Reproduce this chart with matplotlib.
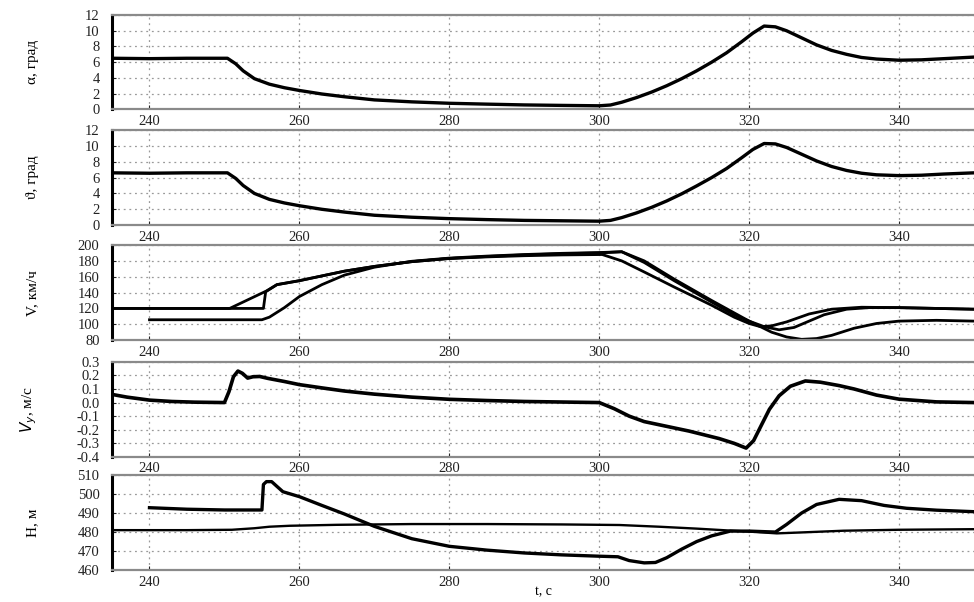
import matplotlib
matplotlib.use("Agg")
import matplotlib.pyplot as plt
from matplotlib.ticker import MultipleLocator, FormatStrFormatter

plt.rcParams['font.family'] = ['Liberation Serif', 'DejaVu Serif']

# Angle of attack and pitch angle, deg
t_ang = [235, 240, 245, 250.4, 251.5, 252.5, 254, 256, 258, 260, 263, 266, 270, 275, 280, 285, 290,
         295, 300, 301.5, 303, 305, 307, 309, 311, 313, 315, 317, 319, 320.5, 322, 323.5, 325, 327,
         329, 331, 333, 335, 337, 340, 343, 346, 350]
alpha = [6.5, 6.45, 6.5, 6.5, 5.8, 4.9, 3.9, 3.2, 2.75, 2.4, 1.95, 1.6, 1.2, 0.95, 0.77, 0.66, 0.56,
         0.5, 0.45, 0.55, 0.9, 1.5, 2.2, 3.0, 3.9, 4.9, 6.0, 7.2, 8.6, 9.7, 10.6, 10.5, 10.0, 9.1,
         8.2, 7.5, 7.0, 6.6, 6.4, 6.25, 6.3, 6.45, 6.65]
theta = [6.6, 6.55, 6.6, 6.6, 5.9, 5.0, 4.0, 3.25, 2.8, 2.45, 2.0, 1.65, 1.25, 1.0, 0.82, 0.7, 0.6,
         0.55, 0.5, 0.6, 0.95, 1.55, 2.25, 3.05, 3.95, 4.95, 6.0, 7.15, 8.5, 9.55, 10.3, 10.25, 9.8,
         8.95, 8.1, 7.4, 6.9, 6.55, 6.35, 6.25, 6.3, 6.45, 6.6]

# Airspeed, km/h (three runs)
t_va = [235, 250.7, 255.6, 257, 260, 263, 266, 270, 275, 280, 285, 290, 295, 300.4, 303, 306, 310,
        315, 318, 320, 321.5, 323, 325, 328, 331, 335, 340, 345, 350]
va = [120, 120, 142, 150, 155, 161, 167, 173, 179, 183, 185, 186.5, 187.5, 188, 180, 166, 147,
      124, 109, 101, 97, 98, 103, 113, 119, 121.5, 121, 120, 119]
t_vb = [235, 255.2, 255.5, 257, 260, 263, 266, 270, 275, 280, 285, 290, 295, 300, 303, 306, 310,
        315, 318, 320, 322, 324, 326, 328, 330, 333, 336, 340, 345, 350]
vb = [120, 120, 141, 150, 155, 161, 167, 173, 179, 183, 185.5, 187.5, 189, 190, 191.5, 178, 155,
      128, 112, 104, 97, 93, 96, 104, 112, 119, 121, 121, 120, 119]
t_vc = [240, 255, 256, 258, 260, 263, 266, 270, 275, 280, 285, 290, 295, 300, 303, 306, 310, 315,
        320, 323, 325, 327, 329, 331, 334, 337, 340, 345, 350]
vc = [105.7, 105.7, 109, 121, 135, 150, 162, 172, 179.5, 183.5, 186, 188, 189.5, 190.5, 191.5, 180,
      157, 130, 104, 90, 84, 81, 82, 86, 95, 101, 104, 105, 104]

# Vertical speed, m/s
t_vy = [235, 237, 240, 243, 246, 250, 250.6, 251.2, 251.8, 252.4, 253.1, 253.8, 254.7, 255.8, 258,
        260, 263, 266, 270, 275, 280, 285, 290, 295, 300, 302, 304, 306, 309, 312, 316, 318, 319.6,
        320.6, 321.6, 322.7, 324, 325.5, 327.5, 329.5, 332, 334, 337, 340, 345, 350]
vy = [0.06, 0.04, 0.018, 0.008, 0.003, 0.0, 0.08, 0.19, 0.232, 0.215, 0.18, 0.19, 0.192, 0.178, 0.155,
      0.132, 0.108, 0.085, 0.062, 0.04, 0.024, 0.015, 0.008, 0.004, 0.0, -0.045, -0.1, -0.14, -0.175,
      -0.21, -0.265, -0.3, -0.335, -0.28, -0.17, -0.05, 0.05, 0.12, 0.159, 0.15, 0.125, 0.1, 0.055,
      0.025, 0.005, 0.0]

# Altitude, m
t_h1 = [240, 245, 250, 255, 255.2, 255.6, 256.3, 257, 257.8, 260, 263, 266, 270, 275, 280, 285, 290,
        295, 300, 302.5, 304, 306, 307.5, 309, 311, 313, 315, 317.5, 320, 323.5, 325, 327, 329, 332,
        335, 338, 341, 345, 350]
h1 = [492.8, 492, 491.6, 491.6, 505, 506.5, 506.5, 504, 501.2, 498.6, 494, 489.5, 483, 476.5, 472.5,
      470.5, 469, 468, 467.3, 467, 465, 463.8, 464, 466.5, 471, 475, 478, 480.5, 480.5, 480, 484, 490,
      494.5, 497.2, 496.5, 494, 492.5, 491.5, 490.7]
t_h2 = [235, 245, 251, 254, 256, 258.7, 265, 275, 285, 295, 302.7, 308, 313, 317.8, 321, 323.7, 327,
        332.6, 340, 350]
h2 = [481, 481, 481.2, 482, 482.8, 483.3, 483.8, 484.2, 484.2, 484, 483.7, 482.8, 481.8, 480.7, 480,
      479.3, 479.8, 480.7, 481.2, 481.5]

x_ticks = [240, 260, 280, 300, 320, 340]

fig = plt.figure(figsize=(9.74, 6.02), dpi=100)
left, width = 0.115, 0.885
rects = [(0.8184, 0.975), (0.626, 0.784), (0.435, 0.593), (0.241, 0.399), (0.053, 0.211)]
axes = [fig.add_axes([left, b, width, t - b]) for b, t in rects]

panels = [
    ("α, град", (0, 12), 2, [(t_ang, alpha, 2.4)]),
    ("ϑ, град", (0, 12), 2, [(t_ang, theta, 2.4)]),
    ("V, км/ч", (80, 200), 20, [(t_va, va, 2.0), (t_vb, vb, 2.0), (t_vc, vc, 2.0)]),
    ("$V_y$, м/с", (-0.4, 0.3), 0.1, [(t_vy, vy, 2.6)]),
    ("H, м", (460, 510), 10, [(t_h1, h1, 2.4), (t_h2, h2, 1.7)]),
]

for ax, (label, ylim, step, series) in zip(axes, panels):
    for tx, yv, lw in series:
        ax.plot(tx, yv, color='black', lw=lw, solid_joinstyle='round')
    ax.set_xlim(235, 350)
    ax.set_ylim(*ylim)
    ax.set_xticks(x_ticks)
    ax.yaxis.set_major_locator(MultipleLocator(step))
    if step == 0.1:
        ax.yaxis.set_major_formatter(FormatStrFormatter('%.1f'))
    ax.grid(True, which='major', color='#9a9a9a', linestyle=(0, (1.5, 3)), lw=0.9)
    ax.tick_params(direction='in', length=3, labelsize=10.5, colors='#222222')
    ax.tick_params(axis='y', pad=9)
    ax.tick_params(axis='x', pad=4)
    ax.spines['left'].set_linewidth(2.2)
    ax.spines['left'].set_color('black')
    for s in ('top', 'bottom'):
        ax.spines[s].set_color('#8a8a8a')
        ax.spines[s].set_linewidth(1.6)
    ax.spines['right'].set_visible(False)
    ax.set_ylabel(label, fontsize=11)
    ax.yaxis.set_label_coords(-0.085, 0.5)

axes[-1].set_xlabel("t, с", fontsize=10)
axes[-1].xaxis.set_label_coords(0.5, -0.155)

fig.savefig("out.png", dpi=100)
